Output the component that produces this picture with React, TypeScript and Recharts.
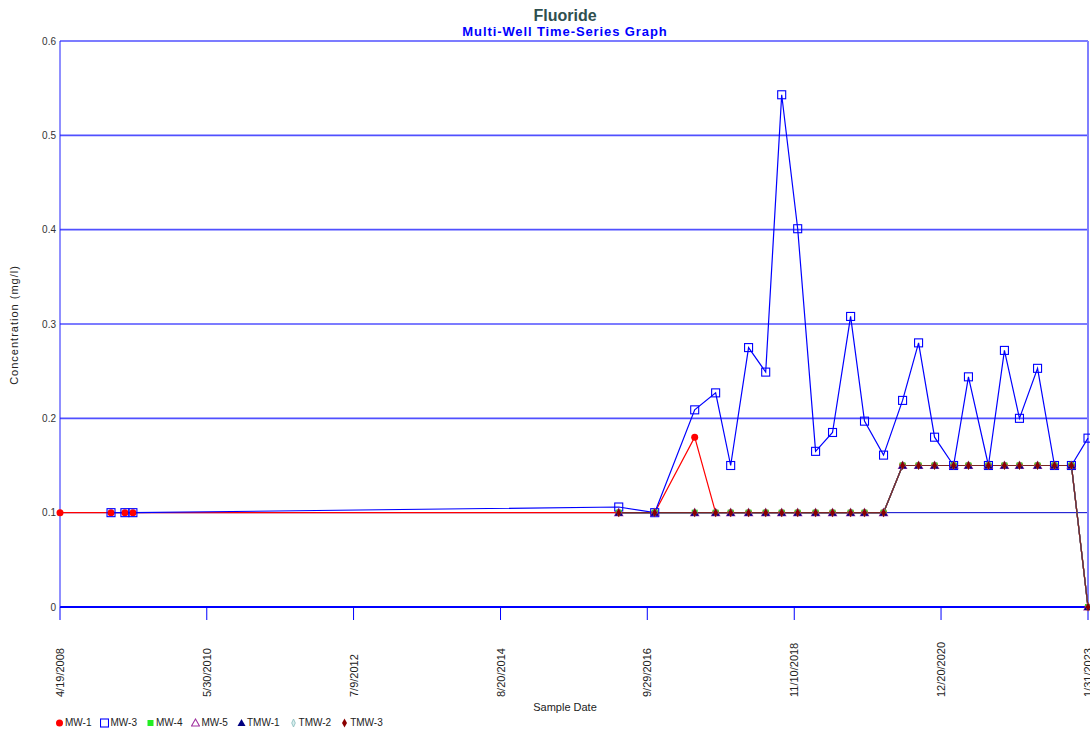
import React from "react";
import { LineChart, Line, XAxis, YAxis, ReferenceLine } from "recharts";

// ---- data ----
const sampleDates = [
  "2008-04-19", "2009-01-12", "2009-03-26", "2009-05-07", "2016-05-02", "2016-11-07",
  "2017-06-05", "2017-09-23", "2017-12-11", "2018-03-15", "2018-06-13", "2018-09-05",
  "2018-11-28", "2019-03-02", "2019-05-30", "2019-09-02", "2019-11-14", "2020-02-22",
  "2020-06-01", "2020-08-24", "2020-11-16", "2021-02-24", "2021-05-13", "2021-08-26",
  "2021-11-18", "2022-02-05", "2022-05-11", "2022-08-08", "2022-11-05", "2023-01-31",
];

const mw1 = [0.1, 0.1, 0.1, 0.1, 0.1, 0.1, 0.18, 0.1, 0.1, 0.1, 0.1, 0.1, 0.1, 0.1, 0.1, 0.1, 0.1, 0.1,
  0.15, 0.15, 0.15, 0.15, 0.15, 0.15, 0.15, 0.15, 0.15, 0.15, 0.15, 0];
const mw3 = [null, 0.1, 0.1, 0.1, 0.106, 0.1, 0.209, 0.227, 0.15, 0.275, 0.249, 0.543, 0.401, 0.165, 0.185,
  0.308, 0.197, 0.161, 0.219, 0.28, 0.18, 0.15, 0.244, 0.15, 0.272, 0.2, 0.253, 0.15, 0.15, 0.179];
const mw4 = [null, null, null, null, 0.1, 0.1, 0.1, 0.1, 0.1, 0.1, 0.1, 0.1, 0.1, 0.1, 0.1, 0.1, 0.1, 0.1,
  0.15, 0.15, 0.15, 0.15, 0.15, 0.15, 0.15, 0.15, 0.15, 0.15, 0.15, 0];
const mw5 = [null, null, null, null, 0.1, 0.1, 0.1, 0.1, 0.1, 0.1, 0.1, 0.1, 0.1, 0.1, 0.1, 0.1, 0.1, 0.1,
  0.15, 0.15, 0.15, 0.15, 0.15, 0.15, 0.15, 0.15, 0.15, 0.15, 0.15, 0];
const tmw1 = [null, null, null, null, 0.1, 0.1, 0.1, 0.1, 0.1, 0.1, 0.1, 0.1, 0.1, 0.1, 0.1, 0.1, 0.1, 0.1,
  0.15, 0.15, 0.15, 0.15, 0.15, 0.15, 0.15, 0.15, 0.15, 0.15, 0.15, 0];
const tmw2 = [null, null, null, null, 0.1, 0.1, 0.1, 0.1, 0.1, 0.1, 0.1, 0.1, 0.1, 0.1, 0.1, 0.1, 0.1, 0.1,
  0.15, 0.15, 0.15, 0.15, 0.15, 0.15, 0.15, 0.15, 0.15, 0.15, 0.15, 0];
const tmw3 = [null, null, null, null, 0.1, 0.1, 0.1, 0.1, 0.1, 0.1, 0.1, 0.1, 0.1, 0.1, 0.1, 0.1, 0.1, 0.1,
  0.15, 0.15, 0.15, 0.15, 0.15, 0.15, 0.15, 0.15, 0.15, 0.15, 0.15, 0];

const xTickDates = ["2008-04-19", "2010-05-30", "2012-07-09", "2014-08-20", "2016-09-29", "2018-11-10", "2020-12-20", "2023-01-31"];
const yTicks = [0, 0.1, 0.2, 0.3, 0.4, 0.5, 0.6];
const gridValues = [0.2, 0.3, 0.4, 0.5, 0.6];

const title = "Fluoride";
const subtitle = "Multi-Well Time-Series Graph";
const yLabel = "Concentration (mg/l)";
const xLabel = "Sample Date";

// ---- build ----
const toTime = (s: string) => Date.parse(s + "T00:00:00Z");
const data = sampleDates.map((d, i) => ({
  t: toTime(d),
  mw1: mw1[i], mw3: mw3[i], mw4: mw4[i], mw5: mw5[i],
  tmw1: tmw1[i], tmw2: tmw2[i], tmw3: tmw3[i],
}));
const xTicks = xTickDates.map(toTime);
const fmtDate = (v: number) => {
  const d = new Date(v);
  return `${d.getUTCMonth() + 1}/${d.getUTCDate()}/${d.getUTCFullYear()}`;
};

type ShapeKind = "circle" | "hsquare" | "fsquare" | "htri" | "ftri" | "thindiamond" | "diamond";

function Marker({ kind, cx, cy, color }: { kind: ShapeKind; cx: number; cy: number; color: string }) {
  switch (kind) {
    case "circle":
      return <circle cx={cx} cy={cy} r={3.5} fill={color} />;
    case "hsquare":
      return <rect x={cx - 4} y={cy - 4} width={8} height={8} fill="none" stroke={color} strokeWidth={1.1} />;
    case "fsquare":
      return <rect x={cx - 3} y={cy - 3} width={6} height={6} fill={color} />;
    case "htri":
      return <polygon points={`${cx},${cy - 4} ${cx + 4},${cy + 3} ${cx - 4},${cy + 3}`} fill="none" stroke={color} strokeWidth={1.1} />;
    case "ftri":
      return <polygon points={`${cx},${cy - 4} ${cx + 4},${cy + 3} ${cx - 4},${cy + 3}`} fill={color} />;
    case "thindiamond":
      return <polygon points={`${cx},${cy - 4} ${cx + 1.8},${cy} ${cx},${cy + 4} ${cx - 1.8},${cy}`} fill="#d8eeee" stroke={color} strokeWidth={0.8} />;
    case "diamond":
      return <polygon points={`${cx},${cy - 4.5} ${cx + 2.5},${cy} ${cx},${cy + 4.5} ${cx - 2.5},${cy}`} fill={color} />;
  }
  return null;
}

const seriesDefs: { key: string; name: string; color: string; line: string; kind: ShapeKind }[] = [
  { key: "mw1", name: "MW-1", color: "#ff0000", line: "#ff0000", kind: "circle" },
  { key: "mw3", name: "MW-3", color: "#0000ff", line: "#0000ff", kind: "hsquare" },
  { key: "mw4", name: "MW-4", color: "#22ee22", line: "#00cc00", kind: "fsquare" },
  { key: "mw5", name: "MW-5", color: "#a033a0", line: "#a033a0", kind: "htri" },
  { key: "tmw1", name: "TMW-1", color: "#000080", line: "#000080", kind: "ftri" },
  { key: "tmw2", name: "TMW-2", color: "#88bbbb", line: "#88bbbb", kind: "thindiamond" },
  { key: "tmw3", name: "TMW-3", color: "#8b0000", line: "#7a2424", kind: "diamond" },
];

const FONT = "'Liberation Sans', Arial, Helvetica, sans-serif";

const XTick = (props: any) => {
  const { x, payload } = props;
  return (
    <text
      transform={`translate(${x},697) rotate(-90)`}
      textAnchor="start"
      dominantBaseline="central"
      fontSize={11}
      fontFamily={FONT}
      fill="#222"
    >
      {fmtDate(payload.value)}
    </text>
  );
};

export default function App() {
  return (
    <div style={{ position: "fixed", left: 0, top: 0, width: 1090, height: 736, fontFamily: FONT, background: "#fff", overflow: "hidden" }}>
      <LineChart width={1090} height={736} data={data} margin={{ top: 41, right: 2, left: 0, bottom: 0 }}>
        {gridValues.map((v) => (
          <ReferenceLine key={v} y={v} stroke="#5050ff" strokeWidth={1.6} />
        ))}
        <ReferenceLine y={0.1} stroke="#0000cc" strokeWidth={1} />
        <ReferenceLine x={xTicks[xTicks.length - 1]} stroke="#7f7fff" strokeWidth={2} />
        <XAxis
          dataKey="t"
          type="number"
          domain={[xTicks[0], xTicks[xTicks.length - 1]]}
          ticks={xTicks}
          tick={<XTick />}
          tickSize={13}
          tickLine={{ stroke: "#0000ff" }}
          axisLine={{ stroke: "#0000ff", strokeWidth: 2 }}
          height={129}
          interval={0}
        />
        <YAxis
          type="number"
          domain={[0, 0.6]}
          ticks={yTicks}
          width={60}
          tickSize={0}
          tickMargin={4}
          tickLine={false}
          axisLine={{ stroke: "#2020ff" }}
          tick={{ fontSize: 10, fill: "#333", fontFamily: FONT }}
          tickFormatter={(v: number) => String(v)}
        />
        {seriesDefs.map((s) => (
          <Line
            key={s.key}
            dataKey={s.key}
            name={s.name}
            stroke={s.line}
            strokeWidth={1.2}
            isAnimationActive={false}
            connectNulls
            dot={(p: any) =>
              p.cx == null || p.cy == null || p.value == null ? (
                <g key={`${s.key}-${p.index}`} />
              ) : (
                <g key={`${s.key}-${p.index}`}>
                  <Marker kind={s.kind} cx={p.cx} cy={p.cy} color={s.color} />
                </g>
              )
            }
            activeDot={false}
          />
        ))}
      </LineChart>
      <div style={{ position: "absolute", left: 365, width: 400, top: 8, textAlign: "center", fontSize: 16, fontWeight: "bold", color: "#2f4f4f", lineHeight: "16px" }}>
        {title}
      </div>
      <div style={{ position: "absolute", left: 365, width: 400, top: 25, textAlign: "center", fontSize: 13, fontWeight: "bold", color: "#0000ff", letterSpacing: 0.9, lineHeight: "14px" }}>
        {subtitle}
      </div>
      <div
        style={{
          position: "absolute", left: 14, top: 325, transform: "translate(-50%, -50%) rotate(-90deg)",
          fontSize: 11, letterSpacing: 1, color: "#222", whiteSpace: "nowrap",
        }}
      >
        {yLabel}
      </div>
      <div style={{ position: "absolute", left: 465, width: 200, top: 701, textAlign: "center", fontSize: 11, color: "#222" }}>
        {xLabel}
      </div>
      <div style={{ position: "absolute", left: 55, top: 717, display: "flex", alignItems: "center", gap: 9, fontSize: 10, color: "#222" }}>
        {seriesDefs.map((s) => (
          <div key={s.key} style={{ display: "flex", alignItems: "center" }}>
            <svg width={9} height={10} style={{ marginRight: 1 }}>
              <Marker kind={s.kind} cx={4.5} cy={5} color={s.color} />
            </svg>
            <span>{s.name}</span>
          </div>
        ))}
      </div>
    </div>
  );
}
